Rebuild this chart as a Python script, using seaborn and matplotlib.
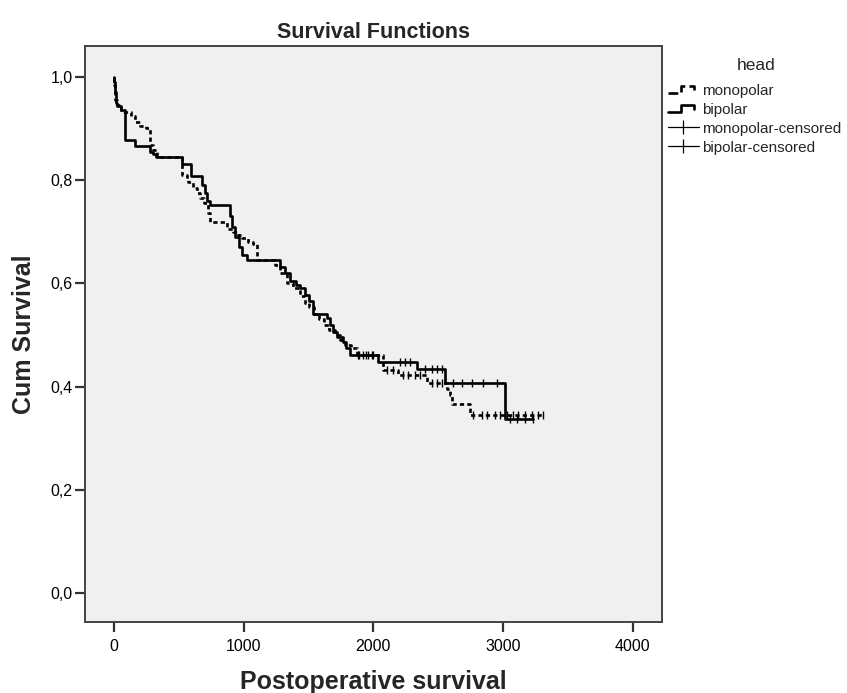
import numpy as np
import pandas as pd
import seaborn as sns
import matplotlib
matplotlib.use("Agg")
import matplotlib.pyplot as plt
from matplotlib.lines import Line2D
from matplotlib.legend_handler import HandlerBase

# ---------------- data ----------------
mono_t = [0, 3, 6, 10, 20, 50, 129, 165, 200, 247, 278, 300, 330, 522, 560, 573,
          612, 637, 663, 690, 727, 740, 869, 920, 958, 985, 1030, 1074, 1100, 1241,
          1280, 1331, 1380, 1430, 1473, 1500, 1540, 1580, 1620, 1660, 1700, 1740,
          1780, 1830, 1871, 2077, 2192, 2411, 2565, 2591, 2603, 2745, 3310]
mono_s = [1.0, 0.985, 0.97, 0.955, 0.945, 0.932, 0.925, 0.912, 0.905, 0.90, 0.868,
          0.858, 0.845, 0.81, 0.80, 0.797, 0.784, 0.774, 0.765, 0.755, 0.736, 0.719,
          0.706, 0.70, 0.693, 0.687, 0.68, 0.677, 0.645, 0.635, 0.62, 0.60, 0.59,
          0.575, 0.561, 0.555, 0.54, 0.53, 0.52, 0.51, 0.50, 0.49, 0.48, 0.475,
          0.461, 0.433, 0.422, 0.407, 0.396, 0.384, 0.367, 0.345, 0.345]

bip_t = [0, 3, 6, 9, 12, 16, 25, 50, 85, 162, 278, 300, 320, 522, 591, 676, 700,
         720, 740, 894, 910, 930, 960, 990, 1023, 1280, 1320, 1360, 1400, 1434,
         1470, 1500, 1537, 1600, 1640, 1665, 1691, 1720, 1768, 1790, 1820, 2038,
         2333, 2552, 3015, 3233]
bip_s = [1.0, 0.99, 0.98, 0.97, 0.96, 0.95, 0.943, 0.935, 0.877, 0.866, 0.855,
         0.85, 0.844, 0.832, 0.808, 0.79, 0.775, 0.76, 0.752, 0.73, 0.71, 0.69,
         0.671, 0.655, 0.645, 0.632, 0.62, 0.605, 0.597, 0.59, 0.578, 0.565, 0.541,
         0.54, 0.532, 0.519, 0.506, 0.497, 0.487, 0.474, 0.461, 0.448, 0.435,
         0.406, 0.338, 0.338]

mono_cens_t = [1890, 1940, 1990, 2102, 2153, 2228, 2267, 2321, 2359, 2449, 2488,
               2527, 2768, 2837, 2876, 2938, 2976, 3030, 3076, 3115, 3169, 3223,
               3269, 3310]
bip_cens_t = [1881, 1920, 1958, 1997, 2205, 2244, 2282, 2398, 2449, 2488, 2527,
              2614, 2683, 2760, 2845, 2953, 3053, 3105, 3169, 3233]

legend_title = "head"
legend_labels = ["monopolar", "bipolar", "monopolar-censored", "bipolar-censored"]
x_ticks = [0, 1000, 2000, 3000, 4000]
y_ticks = [0.0, 0.2, 0.4, 0.6, 0.8, 1.0]
y_tick_labels = ["0,0", "0,2", "0,4", "0,6", "0,8", "1,0"]


def step_value(t, s, ct):
    t = np.asarray(t)
    s = np.asarray(s)
    idx = np.searchsorted(t, np.asarray(ct), side="right") - 1
    return s[np.clip(idx, 0, len(s) - 1)]


mono_df = pd.DataFrame({"time": mono_t, "surv": mono_s})
bip_df = pd.DataFrame({"time": bip_t, "surv": bip_s})
mono_c = pd.DataFrame({"time": mono_cens_t,
                       "surv": step_value(mono_t, mono_s, mono_cens_t)})
bip_c = pd.DataFrame({"time": bip_cens_t,
                      "surv": step_value(bip_t, bip_s, bip_cens_t)})

DASH = (0, (1.6, 1.2))


class StepHandler(HandlerBase):
    """Legend glyph drawn as a small step shape, like SPSS survival legends."""

    def create_artists(self, legend, orig_handle, xdescent, ydescent,
                       width, height, fontsize, trans):
        x0 = -xdescent
        y0 = -ydescent
        xs = [x0, x0 + 0.42 * width, x0 + 0.42 * width, x0 + 0.85 * width,
              x0 + 0.85 * width]
        ys = [y0 + 0.15 * height, y0 + 0.15 * height, y0 + 0.85 * height,
              y0 + 0.85 * height, y0 + 0.45 * height]
        ln = Line2D(xs, ys, color=orig_handle.get_color(),
                    linewidth=orig_handle.get_linewidth(),
                    linestyle=orig_handle.get_linestyle())
        ln.set_transform(trans)
        return [ln]


# ---------------- style ----------------
sns.set_style("ticks")
plt.rcParams["font.family"] = ["Liberation Sans", "DejaVu Sans"]

fig = plt.figure(figsize=(8.47, 6.93), dpi=100)
ax = fig.add_axes([85 / 847, 1 - 622 / 693, (662 - 85) / 847, (622 - 46) / 693])
ax.set_facecolor("#f0f0f0")

sns.lineplot(data=bip_df, x="time", y="surv", ax=ax, color="black",
             linewidth=1.9, drawstyle="steps-post", estimator=None, sort=True)
sns.lineplot(data=mono_df, x="time", y="surv", ax=ax, color="black",
             linewidth=1.9, drawstyle="steps-post", estimator=None, sort=True,
             linestyle=DASH)
sns.scatterplot(data=mono_c, x="time", y="surv", ax=ax, marker="|", s=30,
                color="black", linewidth=1.0)
sns.scatterplot(data=bip_c, x="time", y="surv", ax=ax, marker="|", s=30,
                color="black", linewidth=1.0)

ax.set_xlim(-224, 4225)
ax.set_ylim(-0.056, 1.0597)
ax.set_xticks(x_ticks)
ax.set_xticklabels([str(v) for v in x_ticks])
ax.set_yticks(y_ticks)
ax.set_yticklabels(y_tick_labels)
ax.tick_params(axis="both", labelsize=11.5, length=7, width=1.6,
               color="#333333", labelcolor="black")
ax.tick_params(axis="x", pad=5)
ax.tick_params(axis="y", pad=2)
for sp in ax.spines.values():
    sp.set_visible(True)
    sp.set_color("#444444")
    sp.set_linewidth(1.4)

ax.set_title("Survival Functions", fontsize=15.5, fontweight="bold", pad=6)
ax.set_xlabel("Postoperative survival", fontsize=18, fontweight="bold")
ax.set_ylabel("Cum Survival", fontsize=18, fontweight="bold")
ax.xaxis.set_label_coords(0.5, -(682 - 622) / 576)
ax.xaxis.label.set_va("center")
ax.yaxis.set_label_coords(-(85 - 24) / 577, 0.5)
ax.yaxis.label.set_va("center")

step_mono = Line2D([], [], color="black", lw=1.9, linestyle=DASH)
step_bip = Line2D([], [], color="black", lw=1.9)
cens_mono = Line2D([], [], color="black", lw=0.9, marker="|", markersize=10,
                   markeredgewidth=0.9)
cens_bip = Line2D([], [], color="black", lw=0.9, marker="|", markersize=10,
                  markeredgewidth=0.9)
handles = [step_mono, step_bip, cens_mono, cens_bip]

fig.text(756 / 847, 1 - 66 / 693, legend_title, ha="center", va="center",
         fontsize=12.5)
leg = fig.legend(handles, legend_labels, loc="upper left",
                 bbox_to_anchor=(668 / 847, 1 - 84 / 693), frameon=False,
                 fontsize=11, handlelength=2.0, handletextpad=0.2,
                 labelspacing=0.32, borderpad=0, borderaxespad=0, numpoints=1,
                 handler_map={step_mono: StepHandler(), step_bip: StepHandler()})

fig.savefig("out.png", dpi=100)
